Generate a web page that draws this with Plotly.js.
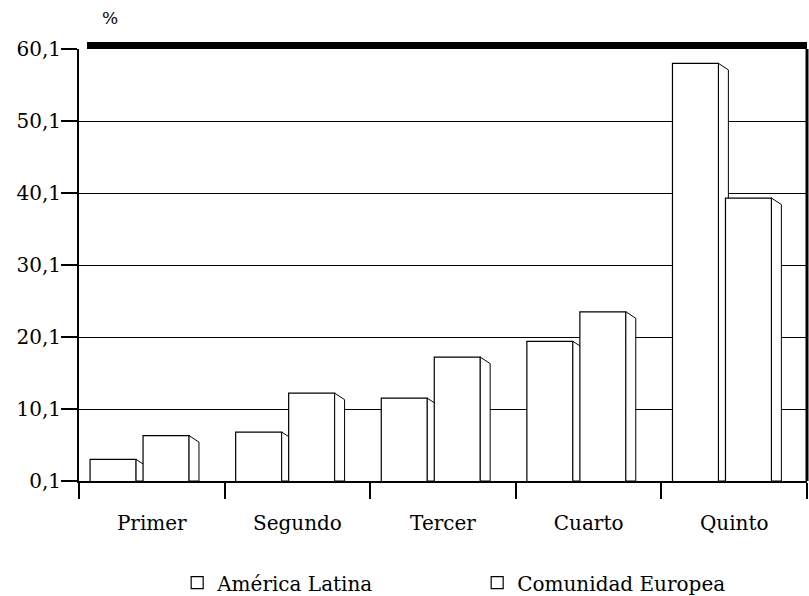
<!DOCTYPE html>
<html>
<head>
<meta charset="utf-8">
<script src="https://cdn.plot.ly/plotly-3.0.1.min.js"></script>
<style>html,body{margin:0;padding:0;background:#fff;}#chart{width:809px;height:596px;}</style>
</head>
<body>
<div id="chart"></div>
<script>
// ---- data ----
const categories = ['Primer', 'Segundo', 'Tercer', 'Cuarto', 'Quinto'];
const americaLatina = [3.1, 6.9, 11.6, 19.5, 58.1];
const comunidadEuropea = [6.4, 12.3, 17.3, 23.6, 39.4];
const seriesNames = ['América Latina', 'Comunidad Europea'];
const yTickStart = 0.1;
const yTickStep = 10;
const yMax = 60.1;

// ---- geometry helpers (styles, not data) ----
const positions = categories.map((c, i) => i);
const boundaries = categories.map((c, i) => i - 0.5).concat([categories.length - 0.5]);
const barWidth = 0.316;
const offsetAL = -0.424;
const offsetCE = -0.060;
const depth = 0.068;   // side-face depth in category units
const drop = 0.9;      // side-face slant in value units

function sideFace(values, offset) {
  const xs = [], ys = [];
  values.forEach((v, i) => {
    const xr = positions[i] + offset + barWidth;
    xs.push(xr, xr, xr + depth, xr + depth, xr, null);
    ys.push(yTickStart, v, v - drop, yTickStart, yTickStart, null);
  });
  return {x: xs, y: ys};
}

const sideAL = sideFace(americaLatina, offsetAL);
const sideCE = sideFace(comunidadEuropea, offsetCE);

const frontStyle = {color: 'white', line: {color: 'black', width: 1.2}};

const traces = [
  {type: 'bar', name: seriesNames[0], x: positions, y: americaLatina,
   width: barWidth, offset: offsetAL, marker: frontStyle, xaxis: 'x', yaxis: 'y',
   hoverinfo: 'y+name'},
  {type: 'scatter', mode: 'lines', x: sideAL.x, y: sideAL.y, fill: 'toself',
   fillcolor: 'white', line: {color: 'black', width: 1}, showlegend: false,
   hoverinfo: 'skip', xaxis: 'x', yaxis: 'y'},
  {type: 'bar', name: seriesNames[1], x: positions, y: comunidadEuropea,
   width: barWidth, offset: offsetCE, marker: frontStyle, xaxis: 'x2', yaxis: 'y2',
   hoverinfo: 'y+name'},
  {type: 'scatter', mode: 'lines', x: sideCE.x, y: sideCE.y, fill: 'toself',
   fillcolor: 'white', line: {color: 'black', width: 1}, showlegend: false,
   hoverinfo: 'skip', xaxis: 'x2', yaxis: 'y2'}
];

const xRange = [boundaries[0], boundaries[boundaries.length - 1]];
const yRange = [yTickStart, yMax];

const layout = {
  width: 809, height: 596,
  margin: {l: 79, r: 2, t: 49, b: 115},
  paper_bgcolor: 'white', plot_bgcolor: 'white',
  separators: ',.',
  font: {family: 'DejaVu Serif', color: 'black', size: 20},
  barmode: 'overlay',
  showlegend: true,
  legend: {
    orientation: 'h', xref: 'container', yref: 'container',
    x: 0.219, y: 0.055, xanchor: 'left', yanchor: 'top',
    entrywidth: 255, entrywidthmode: 'pixels',
    font: {family: 'DejaVu Serif', size: 20, color: 'black'},
    bgcolor: 'rgba(0,0,0,0)'
  },
  xaxis: {
    range: xRange, tickmode: 'array', tickvals: boundaries, showticklabels: false,
    ticks: 'outside', ticklen: 16, tickwidth: 2, tickcolor: 'black',
    showline: true, linewidth: 2, linecolor: 'black',
    showgrid: false, zeroline: false, fixedrange: true
  },
  xaxis2: {
    overlaying: 'x', side: 'bottom', range: xRange,
    tickmode: 'array', tickvals: positions, ticktext: categories,
    ticks: 'outside', ticklen: 24, tickcolor: 'rgba(0,0,0,0)',
    showline: false, showgrid: false, zeroline: false, fixedrange: true,
    tickfont: {family: 'DejaVu Serif', size: 20, color: 'black'}
  },
  yaxis: {
    range: yRange, tickmode: 'linear', tick0: yTickStart, dtick: yTickStep,
    tickformat: '.1f',
    ticks: 'outside', ticklen: 16, tickwidth: 2, tickcolor: 'black',
    showline: true, linewidth: 2, linecolor: 'black',
    showgrid: true, gridcolor: 'black', gridwidth: 1,
    zeroline: false, fixedrange: true, ticklabelstandoff: -4,
    tickfont: {family: 'DejaVu Serif', size: 20, color: 'black'}
  },
  yaxis2: {overlaying: 'y', range: yRange, visible: false, fixedrange: true},
  annotations: [
    {text: '%', xref: 'paper', yref: 'paper', x: 0.043, y: 1.072,
     xanchor: 'center', yanchor: 'middle', showarrow: false,
     font: {family: 'DejaVu Serif', size: 17, color: 'black'}}
  ],
  shapes: [
    {type: 'rect', xref: 'paper', yref: 'paper', x0: 0.011, x1: 1.0, y0: 1.0, y1: 1.016,
     fillcolor: 'black', line: {width: 0}},
    {type: 'line', xref: 'paper', yref: 'paper', x0: 1.0, x1: 1.0, y0: 0, y1: 1.0,
     line: {color: 'black', width: 3}}
  ]
};

Plotly.newPlot('chart', traces, layout, {displayModeBar: false, staticPlot: true});
</script>
</body>
</html>
